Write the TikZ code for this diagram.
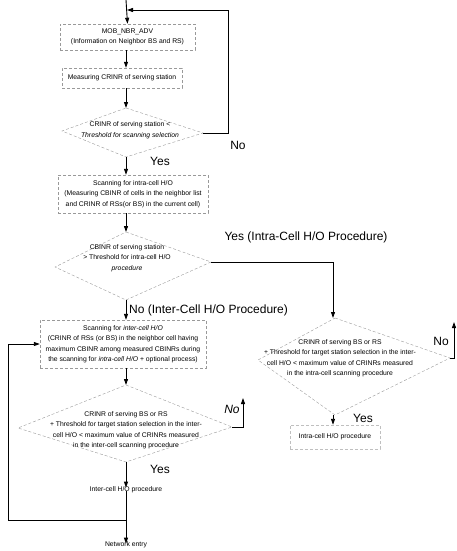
\documentclass[tikz,border=0pt]{standalone}
\usepackage{fontspec}
\setmainfont{Liberation Sans}
\usetikzlibrary{arrows.meta}
\begin{document}
\begin{tikzpicture}[x=1pt,y=-1pt,
  arr/.style={line width=0.9pt,-{Triangle[length=6pt,width=4pt]}},
  dbox/.style={draw=black!40,densely dashed,line width=0.4pt,inner sep=0pt},
  dia/.style={draw=black!40,densely dashed,line width=0.4pt},
  txt/.style={font=\fontsize{6.8}{10.5}\selectfont,align=center,inner sep=0pt},
  lbl/.style={font=\fontsize{12}{13}\selectfont,inner sep=0pt}]
\useasboundingbox (0,0) rectangle (457,551);
% boxes
\node[dbox,minimum width=135pt,minimum height=26pt] (b1) at (127.5,37) {};
\node[txt] at (b1) {MOB\_NBR\_ADV\\(Information on Neighbor BS and RS)};
\node[dbox,minimum width=120pt,minimum height=20pt] (b2) at (122,78) {};
\node[txt] at (b2) {Measuring CRINR of serving station};
\node[dbox,minimum width=150pt,minimum height=38pt] (b3) at (133,194) {};
\node[txt] at (b3) {Scanning for intra-cell H/O\\(Measuring CBINR of cells in the neighbor list\\and CRINR of RSs(or BS) in the current cell)};
\node[dbox,minimum width=166pt,minimum height=48pt] (b4) at (123,344) {};
\node[txt] at (b4) {Scanning for \textit{inter-cell H/O}\\(CRINR of RSs (or BS) in the neighbor cell having\\maximum CBINR among measured CBINRs during\\the scanning for \textit{intra-cell H/O} + optional process)};
\node[txt] (b5) at (126,490) {Inter-cell H/O procedure};
\node[dbox,draw=black!25,minimum width=90pt,minimum height=24pt] (b6) at (335,437) {};
\node[txt] at (b6) {Intra-cell H/O procedure};
\node[txt] (ne) at (126,545) {Network entry};
% diamonds
\coordinate (d1t) at (126,108); \coordinate (d1l) at (62,131);
\coordinate (d1r) at (203,133); \coordinate (d1b) at (126,157);
\draw[dia] (d1t) -- (d1r) -- (d1b) -- (d1l) -- cycle;
\node[txt] (d1) at (130,130) {CRINR of serving station <\\\textit{Threshold for scanning selection}};
\coordinate (d2t) at (126,232); \coordinate (d2l) at (55,267);
\coordinate (d2r) at (211,262); \coordinate (d2b) at (126,300);
\draw[dia] (d2t) -- (d2r) -- (d2b) -- (d2l) -- cycle;
\node[txt] (d2) at (127,258) {CBINR of serving station\\> Threshold for intra-cell H/O\\\textit{procedure}};
\coordinate (d4t) at (126,385); \coordinate (d4l) at (18,428);
\coordinate (d4r) at (232,427); \coordinate (d4b) at (126,462);
\draw[dia] (d4t) -- (d4r) -- (d4b) -- (d4l) -- cycle;
\node[txt] (d4) at (126,430) {CRINR of serving BS or RS\\+ Threshold for target station selection in the inter-\\cell H/O < maximum value of CRINRs measured\\in the inter-cell scanning procedure};
\coordinate (d3t) at (335,318); \coordinate (d3l) at (258,360);
\coordinate (d3r) at (450,358); \coordinate (d3b) at (335,415);
\draw[dia] (d3t) -- (d3r) -- (d3b) -- (d3l) -- cycle;
\node[txt] (d3) at (340,358) {CRINR of serving BS or RS\\+ Threshold for target station selection in the inter-\\cell H/O < maximum value of CRINRs measured\\in the intra-cell scanning procedure};
% connectors
\coordinate (start) at (126,0);
\draw[arr] (start) -- (b1.north);
\draw[arr] (b1.south -| start) -- (b2.north -| start);
\draw[arr] (b2.south -| start) -- (d1t);
\coordinate (lp1) at (228,10); \coordinate (lp2) at (127,10);
\draw[arr] (d1r) -| (lp1) -- (lp2);
\node[lbl] (no1) at (238,145) {No};
\draw[arr] (d1b) -- (b3.north -| d1b);
\node[lbl] (yes1) at (160,161) {Yes};
\draw[arr] (b3.south -| d1b) -- (d2t);
\coordinate (c3) at (333,262);
\draw[arr] (d2r) -- (c3) -- (d3t -| c3);
\node[lbl] (yes2) at (306,237) {Yes (Intra-Cell H/O Procedure)};
\draw[arr] (d2b) -- (b4.north -| d2b);
\node[lbl,anchor=west] (no2) at (129,310) {No (Inter-Cell H/O Procedure)};
\draw[arr] (b4.south -| d2b) -- (d4t);
\coordinate (n4a) at (243,427); \coordinate (n4b) at (243,398);
\draw[arr] (d4r) -- (n4a) -- (n4b);
\node[lbl] (no4) at (232,409) {\textit{No}};
\draw[arr] (d4b) -- ([yshift=-1pt]b5.north);
\node[lbl] (yes4) at (160,469) {Yes};
\coordinate (n3a) at (454,358); \coordinate (n3b) at (454,322);
\draw[arr] (d3r) -- (n3a) -- (n3b);
\node[lbl] (no3) at (441,341) {No};
\draw[arr] (d3b -| c3) -- (b6.north -| c3);
\node[lbl] (yes3) at (363,418) {Yes};
\draw[arr] ([yshift=2pt]b5.south) -- ([yshift=-2pt]ne.north);
\coordinate (jn) at (126,520); \coordinate (lc) at (8,520);
\draw[arr] (jn) -- (lc) |- (b4.west);
\end{tikzpicture}
\end{document}
